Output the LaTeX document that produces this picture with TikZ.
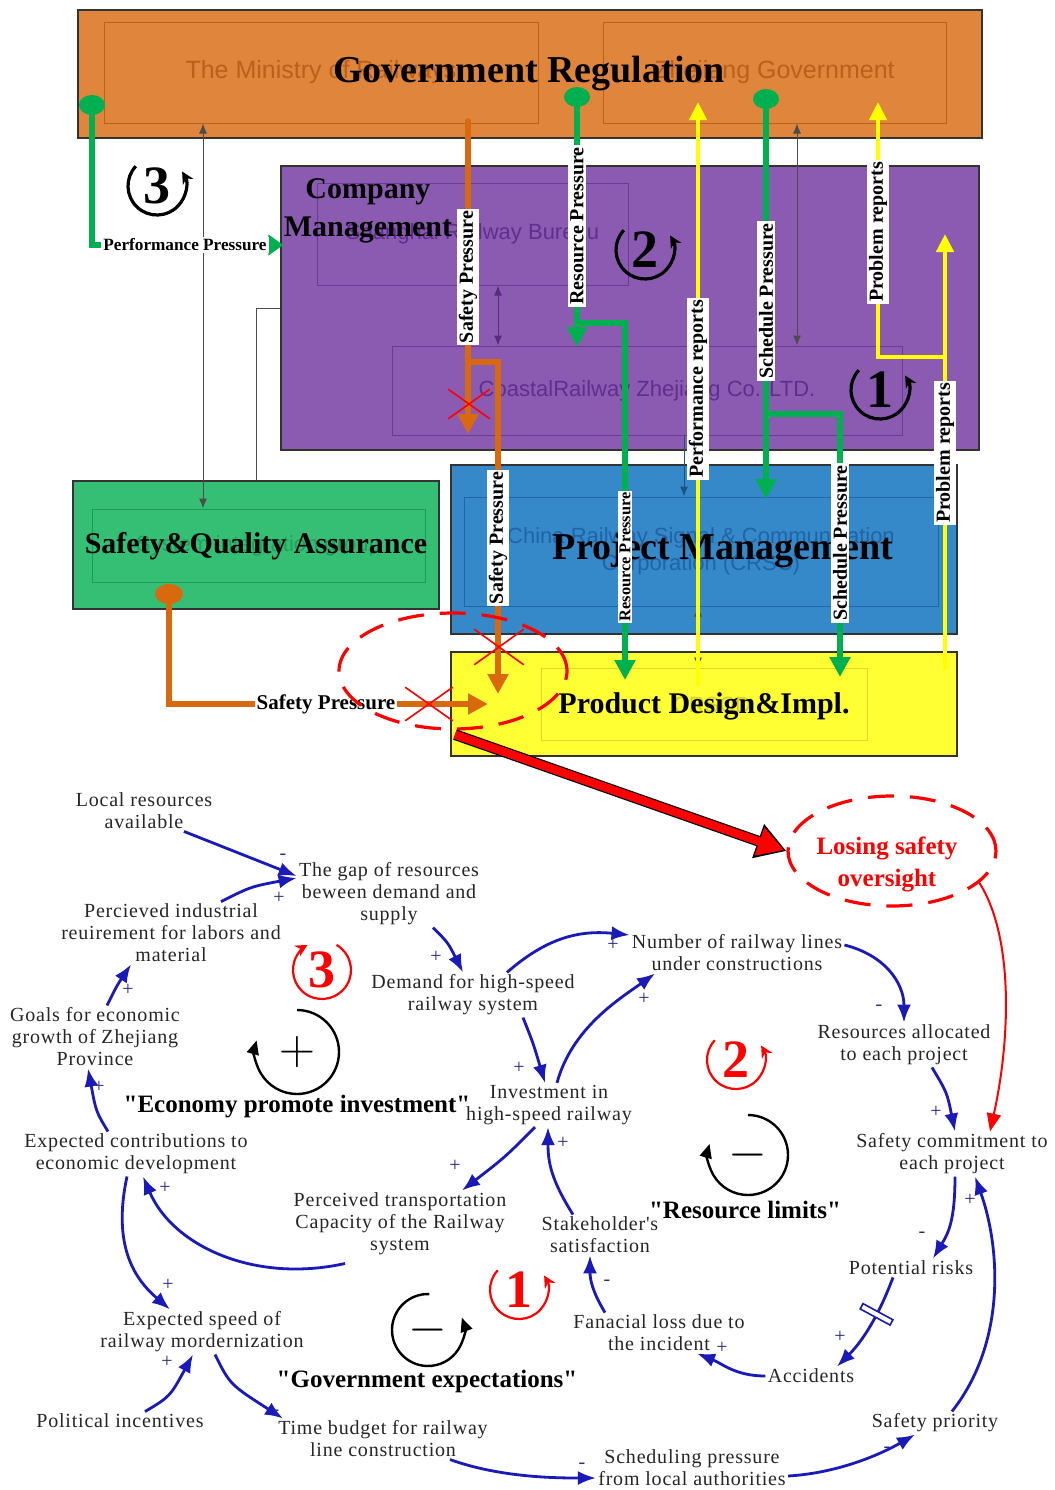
\documentclass[tikz,border=0pt]{standalone}
\usepackage{fontspec}
\setmainfont{Liberation Serif}
\newfontfamily\boxsans{Liberation Sans}
\newfontfamily\cldserif[LetterSpace=4]{Liberation Serif}
\newfontfamily\loopserif[Ligatures=TeXOff]{Liberation Serif}
\usetikzlibrary{arrows.meta,fit,shapes.geometric,shapes.misc}
\definecolor{govfill}{HTML}{E0853C}
\definecolor{govline}{HTML}{B8621A}
\definecolor{govtxt}{HTML}{B9601A}
\definecolor{compfill}{HTML}{8B5BB1}
\definecolor{compline}{HTML}{6A3A98}
\definecolor{comptxt}{HTML}{5F2F8F}
\definecolor{sqafill}{HTML}{35BF75}
\definecolor{sqaline}{HTML}{1F9A56}
\definecolor{sqatxt}{HTML}{22A05C}
\definecolor{projfill}{HTML}{3589C9}
\definecolor{projline}{HTML}{1E66A8}
\definecolor{projtxt}{HTML}{1F64A8}
\definecolor{prodfill}{HTML}{FFFF33}
\definecolor{prodline}{HTML}{D9D92E}
\definecolor{prodtxt}{HTML}{D2D22A}
\definecolor{flowgreen}{HTML}{00B050}
\definecolor{safeorange}{HTML}{D9690F}
\definecolor{repyellow}{HTML}{FFFF00}
\definecolor{lossred}{HTML}{FF0000}
\definecolor{cldblue}{HTML}{1A1AB8}
\definecolor{cldsign}{HTML}{2A2A80}
\tikzset{
  outerbox/.style={draw=black!80, line width=0.6pt, inner sep=0pt},
  innerbox/.style={draw=#1, line width=0.5pt, inner sep=0pt},
  faint/.style={font=\boxsans\fontsize{11}{13.5}\selectfont, align=center, inner sep=0pt},
  ttl/.style={inner sep=0pt, align=center, text=black},
  flow/.style={draw=#1, line width=2.8pt, -{Triangle[length=10pt,width=10pt]}},
  rflow/.style={draw=#1, line width=2.2pt, -{Triangle[length=9pt,width=8.5pt]}},
  vlab/.style={rotate=90, fill=white, inner sep=1pt, font=\bfseries\fontsize{10}{10}\selectfont},
  hlab/.style={fill=white, inner sep=1pt},
  hdot/.style={ellipse, fill=#1, minimum width=13pt, minimum height=10pt, inner sep=0pt},
  xmark/.style={cross out, draw=lossred, line width=0.8pt, inner sep=0pt},
  wire/.style={draw=#1, line width=0.5pt},
  wire2/.style={wire=#1, {Latex[length=5pt,width=4pt]}-{Latex[length=5pt,width=4pt]}},
  lossring/.style={ellipse, draw=lossred, line width=1.6pt, dash pattern=on 13pt off 8pt, inner sep=0pt},
  cld/.style={font=\cldserif\fontsize{10}{11}\selectfont, align=center, inner sep=1pt, text=black!85},
  link/.style={draw=cldblue, line width=1.4pt, -{Latex[length=9pt,width=7pt]}},
  sgn/.style={text=cldsign, font=\cldserif\fontsize{10}{10}\selectfont, inner sep=0pt},
  loopname/.style={font=\loopserif\bfseries\fontsize{12.5}{12.5}\selectfont, inner sep=0pt},
  loopnum/.style={font=\bfseries\fontsize{27}{27}\selectfont, inner sep=0pt},
  delaybar/.style={draw=cldblue, fill=white, line width=0.8pt, minimum width=3pt, minimum height=17pt, inner sep=0pt},
}

\begin{document}
\begin{tikzpicture}[x=0.5pt,y=-0.5pt]
  \fill[white] (0,0) rectangle (1055,1490);
  \useasboundingbox (0,0) rectangle (1055,1490);

  % organisation boxes
  \node[outerbox, fill=govfill, fit={(78,10)(982,138)}] (gov) {};
  \node[innerbox=govline, fit={(104,22)(538,123)}] (govmin) {};
  \node[innerbox=govline, fit={(603,22)(946,123)}] (govzj) {};
  \node[faint, text=govtxt, font=\boxsans\fontsize{12.5}{14}\selectfont] (govmint) at (govmin) {The Ministry of Railways};
  \node[faint, text=govtxt, font=\boxsans\fontsize{12.5}{14}\selectfont] (govzjt) at (govzj) {Zhejiang Government};

  \node[outerbox, fill=compfill, fit={(281,166)(979,450)}] (comp) {};
  \node[innerbox=compline, fit={(317,183)(628,285)}] (compsh) {};
  \node[innerbox=compline, fit={(392,346)(902,435)}] (compcr) {};
  \node[faint, text=comptxt] (compsht) at (compsh) {Shanghai Railway Bureau};
  \node[faint, text=comptxt] (compcrt) at (compcr) {CoastalRailway Zhejiang Co. LTD.};

  \node[outerbox, fill=sqafill, fit={(73,481)(439,609)}] (sqa) {};
  \node[innerbox=sqaline, fit={(92,509)(425,582)}] (sqain) {};
  \node[faint, text=sqatxt] (sqaint) at (sqain) {System integration group};

  \node[outerbox, fill=projfill, fit={(451,465)(957,634)}] (proj) {};
  \node[innerbox=projline, fit={(464,497)(938,606)}] (projin) {};
  \node[faint, text=projtxt] (projint) at (projin) {China Railway Signal \& Communication\\Corporation (CRSC)};

  \node[outerbox, fill=prodfill, fit={(451,652)(957,756)}] (prod) {};
  \node[innerbox=prodline, fit={(541,668)(867,740)}] (prodin) {};
  \node[faint, text=prodtxt] (prodint) at (712,705) {CRSCD};

  \node[ttl, font=\bfseries\fontsize{19}{19}\selectfont] (govt) at (529,74) {Government Regulation};
  \node[ttl, font=\bfseries\fontsize{15}{19}\selectfont] (compt) at (368,211) {Company\\Management};
  \node[ttl, font=\bfseries\fontsize{15}{15}\selectfont] (sqat) at (256,546) {Safety\&Quality Assurance};
  \node[ttl, font=\bfseries\fontsize{19}{19}\selectfont] (projt) at (723,551) {Project Management};
  \node[ttl, font=\bfseries\fontsize{15}{15}\selectfont] (prodt) at (704,706) {Product Design\&Impl.};

  % thin links between the boxes
  \coordinate (colA) at (203,0);
  \coordinate (colB) at (256,0);
  \coordinate (colC) at (498,0);
  \coordinate (colD) at (797,0);
  \coordinate (colE) at (684,0);
  \coordinate (colF) at (698,0);
  \draw[wire2=black!70] (govmin.south -| colA) -- (sqain.north -| colA);
  \draw[wire=black!70] (comp.west) -| (sqa.north -| colB);
  \draw[wire2=compline!80!black] (compsh.south -| colC) -- (compcr.north -| colC);
  \draw[wire2=black!70] (govzj.south -| colD) -- (compcr.north -| colD);
  \draw[wire=projline!80!black, -{Latex[length=5pt,width=4pt]}] (compcr.south -| colE) -- (projin.north -| colE);
  \draw[wire2=black!70] (projin.south -| colF) -- (prodin.north -| colF);

  % pressure and report flows
  \node[hdot=flowgreen] (ppdot) at (92,105) {};
  \node[hdot=flowgreen] (rpdot) at (577,97) {};
  \node[hdot=flowgreen] (scdot) at (766,99) {};
  \node[hdot=safeorange, minimum width=14pt] (sqdot) at (169,594) {};
  \coordinate (pptip) at ([xshift=1.5pt,yshift=31.5pt]comp.west);
  \coordinate (sp1a) at (468,121);
  \coordinate (sp1b) at (468,434);
  \coordinate (spj) at (468,362);
  \coordinate (sp2b) at (498,694);
  \coordinate (rpa) at (577,347);
  \coordinate (rpj) at (577,323);
  \coordinate (rpb) at (625,680);
  \coordinate (pra) at (698,686);
  \coordinate (prb) at (698,102);
  \coordinate (sca) at (766,499);
  \coordinate (scj) at (766,414);
  \coordinate (scb) at (840,677);
  \coordinate (pba) at (945,670);
  \coordinate (pbb) at (945,234);
  \coordinate (pbj) at (945,357);
  \coordinate (pbc) at (878,102);
  \coordinate (sqb) at (488,704);

  \draw[flow=flowgreen, -{Triangle[length=7.5pt,width=10pt]}] (ppdot.center) |- (pptip);
  \draw[flow=safeorange, line cap=round] (sp1a) -- (sp1b);
  \draw[flow=safeorange] (spj) -| (sp2b);
  \draw[flow=safeorange] (sqdot.center) |- (sqb);
  \draw[flow=flowgreen] (rpdot.center) -- (rpa);
  \draw[flow=flowgreen] (rpj) -| (rpb);
  \draw[rflow=repyellow] (pra) -- (prb);
  \draw[flow=flowgreen] (scdot.center) -- (sca);
  \draw[flow=flowgreen] (scj) -| (scb);
  \draw[rflow=repyellow] (pba) -- (pbb);
  \draw[rflow=repyellow] (pbj) -| (pbc);

  \node[hlab, font=\bfseries\fontsize{8.6}{8.6}\selectfont] (ppl) at (185,245) {Performance Pressure};
  \node[hlab, font=\bfseries\fontsize{10.5}{10.5}\selectfont] (sq3l) at (326,704) {Safety Pressure};
  \node[vlab] (sp1l) at (468,277) {Safety Pressure};
  \node[vlab] (sp2l) at (498,538) {Safety Pressure};
  \node[vlab] (rp1l) at (577,226) {Resource Pressure};
  \node[vlab, font=\bfseries\fontsize{8.2}{8.2}\selectfont] (rp2l) at (625,557) {Resource Pressure};
  \node[vlab] (prl) at (698,389) {Performance reports};
  \node[vlab] (sc1l) at (766,301) {Schedule Pressure};
  \node[vlab] (sc2l) at (840,543) {Schedule Pressure};
  \node[vlab] (pb1l) at (945,453) {Problem reports};
  \node[vlab] (pb2l) at (878,232) {Problem reports};

  \node[xmark, minimum width=20pt, minimum height=14pt] (x1) at (469,404) {};
  \node[xmark, minimum width=24pt, minimum height=17pt] (x2) at (499,647) {};
  \node[xmark, minimum width=23pt, minimum height=16pt] (x3) at (429,704) {};

  % loop numbers
  \foreach \n/\px/\py/\sa/\ea/\cl/\lw in {3/157/186/137/390/black/1.6pt, 2/645/250/137/390/black/1.6pt,
      1/880/390/137/390/black/1.6pt, 3/322/970/60/-240/lossred/1.1pt, 2/736/1060/137/390/lossred/1.1pt,
      1/519/1290/137/390/lossred/1.1pt}{
    \node[loopnum, text=\cl] (ln\n\cl) at (\px,\py) {\n};
    \begin{scope}[shift={(\px,\py)}, y=0.5pt]
      \draw[\cl, line width=\lw, -{Stealth[length=6pt,width=6pt]}] (\sa:29) arc[start angle=\sa, end angle=\ea, radius=29];
    \end{scope}
  }

  % failure of safety oversight
  \node[lossring, minimum width=114pt, minimum height=58pt] (fail) at (453,671) {};
  \node[lossring, minimum width=104pt, minimum height=55pt] (lso) at (892,851) {};
  \node[text=lossred, font=\bfseries\fontsize{12.5}{16}\selectfont, align=center, inner sep=0pt] (lsot) at (887,864) {Losing safety\\oversight};
  \draw[line width=5.4pt, draw=black, -{Triangle[length=15pt,width=17pt]}] ([xshift=1pt,yshift=-2pt]fail.south) -- (lso.west);
  \draw[line width=4.2pt, draw=lossred, shorten >=1.3pt, -{Triangle[length=13pt,width=14pt]}] ([xshift=1pt,yshift=-2pt]fail.south) -- (lso.west);

  % causal loop diagram
  \node[cld] (lra) at (144,811) {Local resources\\available};
  \node[cld] (gap) at (389,894) {The gap of resources\\beween demand and\\supply};
  \node[cld] (pir) at (171,933) {Percieved industrial\\reuirement for labors and\\material};
  \node[cld] (goal) at (95,1037) {Goals for economic\\growth of Zhejiang\\Province};
  \node[cld] (dem) at (473,995) {Demand for high-speed\\railway system};
  \node[cld] (nrl) at (737,953) {Number of railway lines\\under constructions};
  \node[cld] (rap) at (904,1045) {Resources allocated\\to each project};
  \node[cld] (inv) at (549,1105) {Investment in\\high-speed railway};
  \node[cld] (scp) at (952,1154) {Safety commitment to\\each project};
  \node[cld] (ecd) at (136,1154) {Expected contributions to\\economic development};
  \node[cld] (ptc) at (400,1224) {Perceived transportation\\Capacity of the Railway\\system};
  \node[cld] (sts) at (600,1235) {Stakeholder's\\satisfaction};
  \node[cld] (prk) at (911,1268) {Potential risks};
  \node[cld] (fin) at (659,1333) {Fanacial loss due to\\the incident};
  \node[cld] (acc) at (811,1376) {Accidents};
  \node[cld] (esr) at (202,1332) {Expected speed of\\railway mordernization};
  \node[cld] (pol) at (120,1421) {Political incentives};
  \node[cld] (tbr) at (383,1439) {Time budget for railway\\line construction};
  \node[cld] (spr) at (935,1423) {Safety priority};
  \node[cld] (sch) at (692,1468) {Scheduling pressure\\from local authorities};

  \draw[link] ([xshift=20pt]lra.south) -- ([yshift=9pt]gap.west);
  \draw[link] ([xshift=25pt]pir.north) .. controls +(30,-15) .. ([yshift=8pt]gap.west);
  \draw[link] ([xshift=22pt]gap.south) .. controls +(15,15) .. ([xshift=-5pt]dem.north);
  \draw[link] ([xshift=17pt]dem.north) .. controls +(40,-35) and +(-50,-5) .. ([yshift=9pt]nrl.west);
  \draw[link] ([xshift=25pt]dem.south) .. controls +(10,25) .. ([xshift=-2pt]inv.north);
  \draw[link] ([xshift=4pt]inv.north) .. controls +(15,-55) and +(-35,25) .. ([xshift=-41pt]nrl.south);
  \draw[link] ([yshift=4pt]nrl.east) .. controls +(40,10) and +(0,-40) .. (rap.north);
  \draw[link] ([xshift=14pt]rap.south) .. controls +(15,25) .. ([xshift=1.5pt]scp.north);
  \draw[link] ([xshift=1.5pt]scp.south) .. controls +(0,45) and +(15,-25) .. ([xshift=11pt]prk.north);
  \draw[link] ([xshift=-9pt]prk.south) .. controls +(-15,40) and +(25,-25) .. ([xshift=13pt]acc.north)
    node[delaybar, pos=0.35, sloped] (dly) {};
  \draw[link] (acc.west) .. controls +(-30,0) and +(25,10) .. ([xshift=19pt]fin.south);
  \draw[link] ([xshift=-27pt]fin.north) .. controls +(-12,-20) and +(0,25) .. ([xshift=-5pt]sts.south);
  \draw[link] ([xshift=-13.5pt]sts.north) .. controls +(-22,-35) and +(0,35) .. ([xshift=-0.5pt]inv.south);
  \draw[link] ([xshift=-7pt]inv.south) .. controls +(-30,30) .. ([xshift=31pt]ptc.north);
  \draw[link] ([xshift=-27.5pt,yshift=-3pt]ptc.south) .. controls +(-90,20) and +(30,70) .. ([xshift=3.5pt]ecd.south);
  \draw[link] ([xshift=-4.5pt]ecd.south) .. controls +(-15,70) and +(-35,-30) .. ([xshift=-16pt]esr.north);
  \draw[link] ([xshift=-14pt]ecd.north) .. controls +(-12,-20) .. ([xshift=-3.5pt]goal.south);
  \draw[link] ([xshift=6pt]goal.north) .. controls +(10,-20) .. ([xshift=-20pt]pir.south);
  \draw[link] ([xshift=12.5pt]pol.north) .. controls +(25,-15) .. ([xshift=-4.5pt]esr.south);
  \draw[link] ([xshift=6.5pt]esr.south) .. controls +(15,30) .. ([xshift=-50pt]tbr.north);
  \draw[link] ([xshift=33.5pt]tbr.south) .. controls +(50,18) and +(-40,0) .. ([yshift=-5pt]sch.west);
  \draw[link] ([yshift=-4pt]sch.east) .. controls +(50,-3) and +(-35,20) .. ([xshift=-10pt]spr.south);
  \draw[link] ([xshift=8.5pt]spr.north) .. controls +(55,-70) and +(25,70) .. ([xshift=11.5pt]scp.south);
  \draw[lossred, line width=1pt, -{Triangle[length=9pt,width=7pt]}] (lso.-20) .. controls +(35,55) and +(20,-90) .. ([xshift=19pt]scp.north);

  \foreach \s/\px/\py [count=\k] in {-/283/857, +/279/898, +/436/957, +/613/945, +/519/1068, +/644/999,
      -/879/1008, +/936/1112, -/922/1235, +/840/1337, +/722/1348, -/607/1283, +/563/1143, +/455/1166,
      +/165/1188, +/168/1285, +/99/1087, +/128/990, +/167/1362, -/276/1413, -/582/1466, -/887/1450, +/970/1200}
    \node[sgn] (sg\k) at (\px,\py) {\s};

  % loop polarity and names
  \foreach \px/\py/\r/\sa/\ea/\sy [count=\k] in {297/1052/42/90/-196/+, 748/1155/40/90/-196/-, 428/1330/36/88/380/-}{
    \begin{scope}[shift={(\px,\py)}, y=0.5pt]
      \draw[black, line width=1.2pt, -{Triangle[length=7pt,width=6pt]}] (\sa:\r) arc[start angle=\sa, end angle=\ea, radius=\r];
    \end{scope}
    \node[inner sep=0pt, font=\fontsize{26}{26}\selectfont] (lsym\k) at (\px,\py) {$\sy$};
  }
  \node[loopname] (eloop) at (297,1107) {"Economy promote investment"};
  \node[loopname] (rloop) at (745,1210) {"Resource limits"};
  \node[loopname] (gloop) at (427,1381) {"Government expectations"};
\end{tikzpicture}
\end{document}
